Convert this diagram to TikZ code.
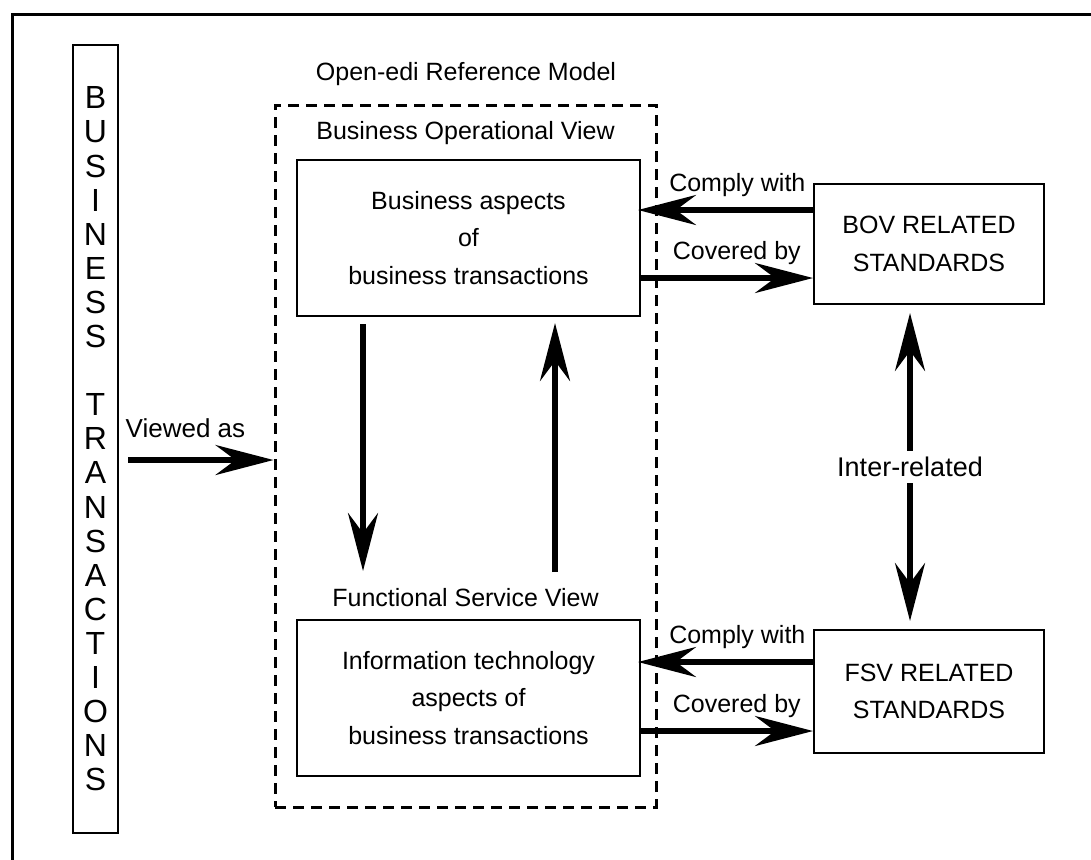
\documentclass[tikz,border=0pt]{standalone}
\usepackage{fontspec}
\setmainfont{Liberation Sans}
\usetikzlibrary{arrows.meta}
\tikzset{
  box/.style={draw, line width=1pt, rectangle, inner sep=0pt, align=center,
    font=\fontsize{12.5}{18.75}\selectfont},
  lab/.style={inner sep=1pt, font=\fontsize{12.5}{15}\selectfont},
  arr/.style={line width=3pt, -{Stealth[length=29pt, width=15pt, inset=10pt]}},
  darr/.style={line width=3pt, {Stealth[length=29pt, width=15pt, inset=10pt]}-{Stealth[length=29pt, width=15pt, inset=10pt]}},
  dashbox/.style={draw, line width=1.5pt, dash pattern=on 5.5pt off 3.5pt, inner sep=0pt},
}
\begin{document}
\begin{tikzpicture}[x=0.5pt, y=-0.5pt]
\useasboundingbox (0,0) rectangle (1091,859);
% outer frame
\draw[line width=1.5pt] (12.5,870) -- (12.5,14) -- (1100,14);
% business transactions column
\node[box, minimum width=22.5pt, minimum height=394pt, font=\fontsize{16}{17.05}\selectfont]
  (bt) at (95.5,439) {B\\U\\S\\I\\N\\E\\S\\S\\\mbox{}\\T\\R\\A\\N\\S\\A\\C\\T\\I\\O\\N\\S};
% dashed reference model
\node[dashbox, minimum width=190.5pt, minimum height=351pt] (dash) at (465.5,456) {};
\node[lab] (orm) at (466,74) {Open-edi Reference Model};
\node[lab] (bovl) at (465.5,133) {Business Operational View};
\node[lab] (fsvl) at (465.5,598) {Functional Service View};
% inner boxes
\node[box, minimum width=171.5pt, minimum height=78pt] (b1) at (468.5,238)
  {Business aspects\\of\\business transactions};
\node[box, minimum width=171.5pt, minimum height=78pt] (b2) at (468.5,698)
  {Information technology\\aspects of\\business transactions};
% standards boxes
\node[box, minimum width=115pt, minimum height=60pt] (bov) at (929,244)
  {BOV RELATED\\STANDARDS};
\node[box, minimum width=115pt, minimum height=61.5pt] (fsv) at (929,691.5)
  {FSV RELATED\\STANDARDS};
% viewed as
\path ([yshift=-2pt]dash.west) coordinate (va);
\draw[arr, shorten <=4.5pt] (va -| bt.east) -- node[lab, pos=.43, yshift=15.75pt, font=\fontsize{13}{15}\selectfont] {Viewed as} (va);
% vertical arrows between views
\draw[arr, shorten <=3.5pt, shorten >=24pt] ([xshift=-52.75pt]b1.south) -- ([xshift=-52.75pt]b2.north);
\draw[arr, shorten <=23.5pt, shorten >=3pt] ([xshift=43.25pt]b2.north) -- ([xshift=43.25pt]b1.south);
% BOV arrows
\path ([yshift=17pt]bov.west) coordinate (c1);
\draw[arr, shorten >=-1.5pt] (c1) -- node[lab, pos=.44, yshift=12.25pt] {Comply with} (c1 -| b1.east);
\path ([yshift=-17pt]bov.west) coordinate (c2);
\draw[arr] (c2 -| b1.east) -- node[lab, pos=.557, yshift=12.25pt] {Covered by} (c2);
% FSV arrows
\path ([yshift=14.75pt]fsv.west) coordinate (c3);
\draw[arr, shorten >=-1.5pt] (c3) -- node[lab, pos=.44, yshift=12.25pt] {Comply with} (c3 -| b2.east);
\path ([yshift=-19.75pt]fsv.west) coordinate (c4);
\draw[arr] (c4 -| b2.east) -- node[lab, pos=.557, yshift=12.25pt] {Covered by} (c4);
% inter-related
\draw[darr, shorten <=4pt, shorten >=4pt] ([xshift=-9.5pt]bov.south) -- node[lab, fill=white, inner sep=3pt, font=\fontsize{13.5}{15}\selectfont] {Inter-related} ([xshift=-9.5pt]fsv.north);
\end{tikzpicture}
\end{document}
